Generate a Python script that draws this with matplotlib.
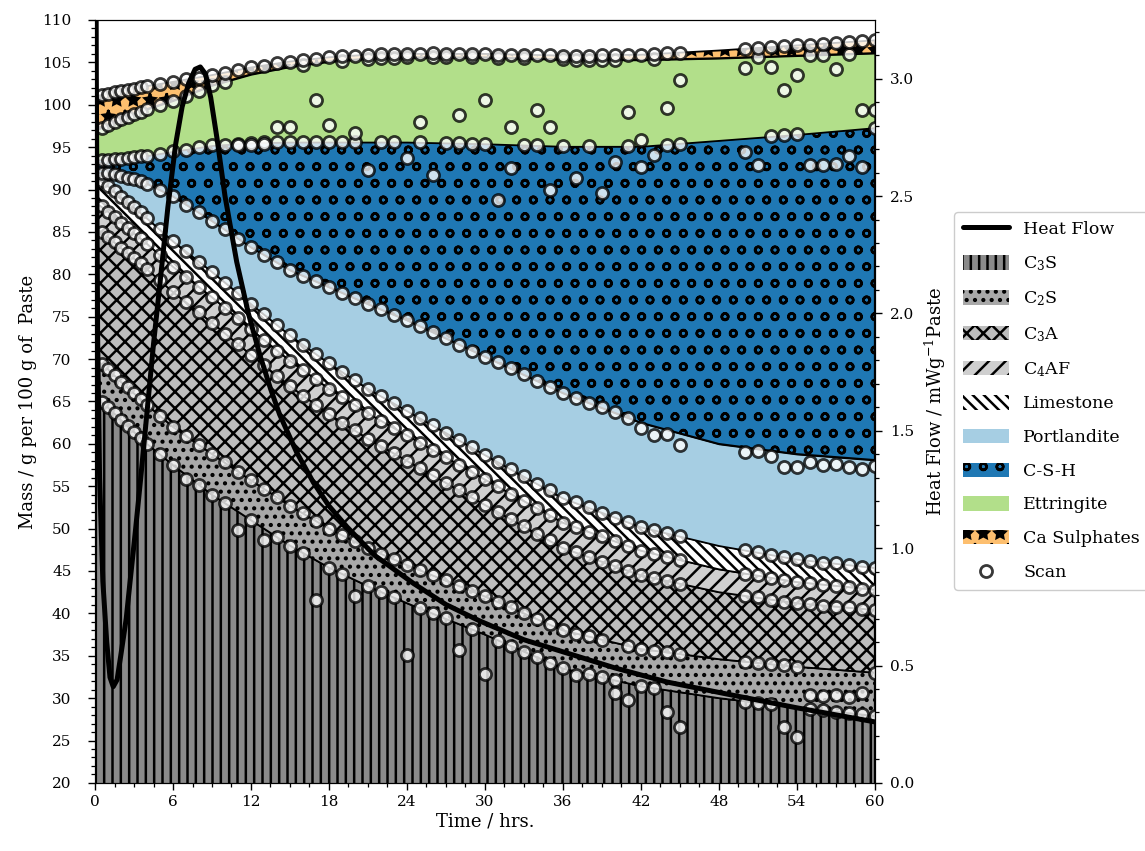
import matplotlib
matplotlib.use('Agg')
import matplotlib.pyplot as plt
from matplotlib.ticker import AutoMinorLocator
from matplotlib.patches import Patch
import numpy as np

plt.rcParams['font.family'] = 'DejaVu Serif'
plt.rcParams['mathtext.fontset'] = 'dejavuserif'
plt.rcParams['hatch.linewidth'] = 1.8
plt.rcParams['hatch.color'] = 'black'

# modelled phase assemblage, g per 100 g paste
time = [0, 1, 2, 4, 6, 9, 12, 15, 18, 21, 24, 30, 36, 42, 48, 54, 60]
c3s = [65.5, 64.3, 62.8, 60.0, 57.5, 54.0, 51.0, 48.0, 45.4, 43.2, 41.2, 37.5, 33.5, 31.4, 30.0, 28.9, 27.9]
c2s = [4.5, 4.5, 4.5, 4.6, 4.5, 4.8, 4.7, 4.7, 4.6, 4.5, 4.5, 4.5, 4.5, 4.4, 4.6, 4.8, 5.1]
c3a = [15.5, 15.6, 15.8, 16.0, 15.9, 15.5, 14.8, 14.1, 13.5, 12.9, 12.3, 10.8, 9.7, 8.7, 7.9, 7.5, 7.4]
c4af = [3.0, 3.0, 3.0, 3.0, 3.0, 3.0, 3.0, 3.0, 3.0, 3.0, 3.0, 3.0, 3.0, 2.9, 2.7, 2.5, 2.4]
limestone = [3.0, 3.0, 3.0, 3.0, 3.0, 3.0, 3.0, 3.0, 3.0, 2.9, 2.9, 2.9, 2.9, 2.8, 2.8, 2.7, 2.6]
portlandite = [0.5, 1.5, 2.5, 4.1, 5.3, 6.0, 6.7, 7.7, 9.0, 10.0, 10.7, 11.6, 12.4, 12.3, 12.0, 12.4, 12.7]
csh = [1.5, 1.6, 2.0, 3.3, 5.3, 8.9, 12.3, 15.1, 17.1, 19.1, 21.0, 25.1, 29.1, 32.6, 35.8, 37.7, 39.2]
ettringite = [3.5, 4.1, 4.7, 5.5, 6.0, 7.1, 8.1, 8.9, 9.5, 9.85, 10.0, 10.2, 10.25, 10.2, 9.7, 9.3, 8.8]
ca_sulphates = [4.0, 3.7, 3.3, 2.7, 2.2, 1.2, 0.8, 0.6, 0.5, 0.45, 0.4, 0.4, 0.45, 0.6, 0.9, 1.2, 1.5]

labels = ['C$_3$S', 'C$_2$S', 'C$_3$A', 'C$_4$AF', 'Limestone',
          'Portlandite', 'C-S-H', 'Ettringite', 'Ca Sulphates']
colors = ['#8a8a8a', '#a8a8a8', '#bdbdbd', '#cfcfcf', '#ffffff',
          '#a6cee3', '#1f78b4', '#b2df8a', '#fdbf6f']
hatches = ['||', '..', 'xx', '//', '\\\\\\', None, 'o', None, '*']

# heat flow calorimetry
heat_t = [0.0, 0.1, 0.2, 0.35, 0.6, 0.9, 1.15, 1.4, 1.7, 2.0, 2.4, 2.7, 3.1, 3.5, 4.0,
          4.5, 5.0, 5.6, 6.2, 6.7, 7.2, 7.7, 8.1, 8.5, 8.9, 9.4, 10.0, 10.9, 11.8,
          12.7, 13.5, 14.2, 15.5, 16.8, 18.0, 19.4, 21.5, 24.5, 27.0, 29.6, 33.0,
          36.5, 40.0, 44.0, 49.4, 54.0, 60.0]
heat_flow = [5.0, 3.0, 1.9, 1.3, 0.86, 0.6, 0.45, 0.41, 0.44, 0.55, 0.7, 0.86, 1.07, 1.29, 1.58,
             1.87, 2.13, 2.45, 2.72, 2.88, 2.98, 3.04, 3.05, 3.02, 2.92, 2.74, 2.50, 2.22, 2.00,
             1.82, 1.68, 1.57, 1.41, 1.28, 1.18, 1.09, 0.97, 0.85, 0.76, 0.69, 0.61,
             0.55, 0.49, 0.43, 0.37, 0.32, 0.26]

# scan results (cumulative mass at each phase boundary)
scan_t = [0.5, 1, 1.5, 2, 2.5, 3, 3.5, 4,
          5, 6, 7, 8, 9, 10, 11, 12, 13, 14, 15, 16, 17, 18, 19, 20, 21, 22, 23, 24, 25,
          26, 27, 28, 29, 30, 31, 32, 33, 34, 35, 36, 37, 38, 39, 40, 41, 42, 43, 44, 45,
          50, 51, 52, 53, 54, 55, 56, 57, 58, 59, 60]
scan_c3s = [64.9, 64.3, 63.6, 62.8, 62.1, 61.4, 60.7, 60.0,
            58.8, 57.5, 55.8, 55.2, 54.0, 53.0, 49.8, 51.0, 48.7, 49.0, 48.0, 47.1, 41.6, 45.4, 44.7, 42.0, 43.2, 42.5, 41.9, 35.1, 40.6,
            40.0, 39.4, 35.7, 38.1, 32.8, 36.8, 36.2, 35.5, 34.8, 34.2, 33.5, 32.7, 32.8, 32.5, 32.1, 29.8, 31.4, 31.2, 28.4, 26.6,
            29.6, 29.4, 29.3, 26.6, 25.4, 28.7, 28.6, 28.4, 28.2, 28.1, 27.9]
scan_c2s = [69.4, 68.8, 68.1, 67.3, 66.7, 66.0, 65.3, 64.6,
            63.3, 62.0, 60.9, 59.9, 58.8, 57.8, 56.7, 55.7, 54.7, 53.7, 52.7, 51.8, 50.9, 50.0, 49.2, 48.5, 47.7, 47.0, 46.4, 45.7, 45.1,
            44.5, 43.9, 43.2, 42.6, 42.0, 41.3, 40.7, 40.0, 39.3, 38.7, 38.0, 37.6, 37.3, 36.9, 30.6, 36.2, 35.8, 35.6, 35.4, 35.2,
            34.3, 34.2, 34.0, 33.9, 33.7, 30.4, 30.2, 30.4, 30.1, 30.6, 33.0]
scan_c3a = [85.0, 84.4, 83.8, 83.1, 82.5, 81.9, 81.3, 80.6,
            79.3, 77.9, 76.7, 75.5, 74.3, 73.0, 71.8, 70.5, 69.3, 68.0, 66.8, 65.7, 64.6, 63.5, 62.5, 61.6, 60.6, 59.7, 58.9, 58.0, 57.1,
            56.3, 55.4, 54.5, 53.7, 52.8, 52.0, 51.1, 50.3, 49.4, 48.6, 47.7, 47.2, 46.6, 46.1, 45.6, 45.0, 44.5, 44.2, 43.8, 43.5,
            42.1, 41.9, 41.6, 41.4, 41.2, 41.1, 40.9, 40.8, 40.7, 40.5, 40.4]
scan_c4af = [88.0, 87.4, 86.8, 86.1, 85.5, 84.9, 84.3, 83.6,
             82.3, 80.9, 79.7, 78.5, 77.3, 76.0, 74.8, 73.5, 72.3, 71.0, 69.8, 68.7, 67.6, 66.5, 65.5, 64.6, 63.6, 62.7, 61.9, 61.0, 60.1,
             59.3, 58.4, 57.5, 56.7, 55.8, 55.0, 54.1, 53.3, 52.4, 51.6, 50.7, 50.2, 49.6, 49.1, 48.5, 47.9, 47.4, 47.0, 46.7, 46.3,
             44.7, 44.5, 44.2, 43.9, 43.7, 43.6, 43.4, 43.2, 43.1, 42.9, 42.8]
scan_lime = [91.0, 90.4, 89.8, 89.1, 88.5, 87.9, 87.3, 86.6,
             85.3, 83.9, 82.7, 81.5, 80.3, 79.0, 77.8, 76.5, 75.3, 74.0, 72.8, 71.7, 70.6, 69.5, 68.5, 67.5, 66.5, 65.6, 64.8, 63.9, 63.0,
             62.2, 61.3, 60.4, 59.6, 58.7, 57.9, 57.0, 56.2, 55.3, 54.5, 53.6, 53.1, 52.5, 51.9, 51.3, 50.8, 50.2, 49.8, 49.5, 49.1,
             47.5, 47.2, 46.9, 46.6, 46.4, 46.2, 46.0, 45.9, 45.7, 45.5, 45.4]
scan_portlandite = [92.0, 91.9, 91.8, 91.6, 91.4, 91.2, 91.0, 90.7,
                    90.0, 89.2, 88.2, 87.3, 86.3, 85.3, 84.2, 83.2, 82.3, 81.4, 80.5, 79.8, 79.2, 78.5, 77.8, 77.2, 76.5, 75.9, 75.2, 74.6, 73.9,
                    73.2, 72.5, 71.7, 71.0, 70.3, 69.6, 68.9, 68.2, 67.4, 66.7, 66.0, 65.4, 64.8, 64.3, 63.7, 63.1, 61.9, 61.0, 61.2, 59.9,
                    59.0, 59.2, 58.6, 57.3, 57.3, 57.8, 57.5, 57.6, 57.3, 57.0, 57.4]
scan_csh = [93.5, 93.5, 93.6, 93.6, 93.7, 93.8, 93.9, 94.0,
            94.2, 94.5, 94.7, 95.0, 95.2, 95.3, 95.4, 95.5, 95.6, 95.6, 95.6, 95.6, 95.6, 95.6, 95.6, 95.6, 92.3, 95.6, 95.6, 93.7, 95.6,
            91.7, 95.5, 95.5, 95.4, 95.4, 88.8, 92.5, 95.2, 95.2, 90.0, 95.1, 91.4, 95.1, 89.6, 93.3, 95.1, 92.7, 94.1, 95.3, 95.4,
            94.4, 92.9, 96.3, 96.4, 96.5, 92.9, 92.9, 93.0, 93.9, 92.6, 97.3]
scan_ett = [97.3, 97.6, 98.0, 98.3, 98.6, 98.9, 99.2, 99.5,
            100.0, 100.5, 101.0, 101.6, 102.3, 102.7, 95.3, 95.3, 95.4, 97.4, 97.4, 104.7, 100.6, 97.6, 105.2, 96.7, 105.4, 105.5, 105.5, 105.6, 98.0,
            105.6, 105.6, 98.8, 105.6, 100.6, 105.5, 97.4, 105.5, 99.4, 97.4, 105.4, 105.3, 105.3, 105.3, 105.3, 99.1, 95.9, 105.4, 99.6, 102.9,
            104.3, 105.6, 104.4, 101.7, 103.5, 105.9, 105.9, 104.2, 106.0, 99.4, 99.4]
scan_cas = [101.2, 101.3, 101.5, 101.6, 101.8, 101.9, 102.1, 102.2,
            102.5, 102.7, 103.0, 103.2, 103.5, 103.8, 104.1, 104.4, 104.6, 104.9, 105.1, 105.3, 105.4, 105.6, 105.7, 105.8, 105.9, 106.0, 106.0, 106.0, 106.0,
            106.1, 106.0, 106.0, 106.0, 106.0, 105.9, 105.9, 105.9, 105.9, 105.9, 105.8, 105.8, 105.8, 105.9, 105.9, 105.9, 105.9, 106.0, 106.1, 106.1,
            106.6, 106.7, 106.8, 106.9, 107.0, 107.1, 107.2, 107.3, 107.4, 107.5, 107.6]


def main():
    fig = plt.figure(figsize=(11.45, 8.51), dpi=100)
    ax = fig.add_axes([0.083, 0.080, 0.681, 0.8965])

    layers = np.array([c3s, c2s, c3a, c4af, limestone, portlandite, csh, ettringite, ca_sulphates])
    tops = np.cumsum(layers, axis=0)
    bottoms = np.vstack([np.zeros(len(time)), tops[:-1]])

    for lo, hi, col, hat in zip(bottoms, tops, colors, hatches):
        ax.fill_between(time, lo, hi, facecolor=col, edgecolor='k',
                        hatch=hat, linewidth=1.3, zorder=1)

    scans = [scan_c3s, scan_c2s, scan_c3a, scan_c4af, scan_lime,
             scan_portlandite, scan_csh, scan_ett, scan_cas]
    for i, s in enumerate(scans):
        sc = ax.scatter(scan_t, s, s=75, facecolor='white', edgecolor='black',
                        linewidths=2.0, alpha=0.78, zorder=3)
        if i == 0:
            scan_handle = sc

    ax.set_xlim(0, 60)
    ax.set_ylim(20, 110)
    ax.set_xticks(range(0, 61, 6))
    ax.set_yticks(range(20, 111, 5))
    ax.xaxis.set_minor_locator(AutoMinorLocator(4))
    ax.yaxis.set_minor_locator(AutoMinorLocator(5))
    ax.tick_params(which='major', direction='out', length=5, width=1.0, labelsize=11)
    ax.tick_params(which='minor', direction='out', length=3, width=0.9)
    ax.tick_params(axis='y', which='major', pad=12)
    ax.set_xlabel('Time / hrs.', fontsize=13, labelpad=3)
    ax.set_ylabel('Mass / g per 100 g of  Paste', fontsize=13, labelpad=4)

    ax2 = ax.twinx()
    hl, = ax2.plot(heat_t, heat_flow, color='black', lw=3.6, solid_capstyle='round')
    ax2.set_ylim(0, 3.25)
    ax2.set_yticks(np.arange(0, 3.01, 0.5))
    ax2.yaxis.set_minor_locator(AutoMinorLocator(5))
    ax2.tick_params(which='major', direction='out', length=5, width=1.0, labelsize=11, pad=6)
    ax2.tick_params(which='minor', direction='out', length=3, width=0.9)
    ax2.set_ylabel('Heat Flow / mWg$^{-1}$Paste', fontsize=13, labelpad=6)

    patch_handles = [Patch(facecolor=c, hatch=h, linewidth=0) for c, h in zip(colors, hatches)]
    leg_handles = [hl] + patch_handles + [scan_handle]
    leg_labels = ['Heat Flow'] + labels + ['Scan']
    fig.legend(leg_handles, leg_labels, loc='center left',
               bbox_to_anchor=(0.826, 0.529), fontsize=12.5, handlelength=2.65,
               handleheight=0.9, labelspacing=0.95, borderpad=0.5,
               framealpha=1, edgecolor='0.8', scatterpoints=1)

    fig.savefig('out.png', dpi=100)


if __name__ == '__main__':
    main()
